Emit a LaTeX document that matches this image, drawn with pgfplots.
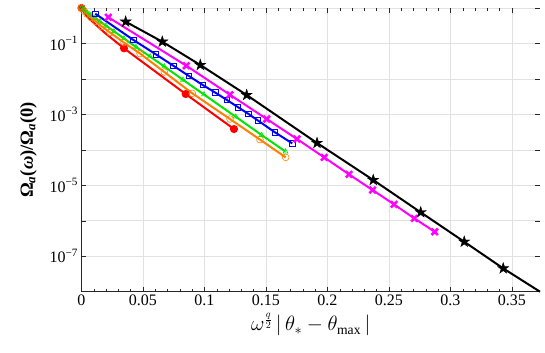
\documentclass[border=0pt]{standalone}
\usepackage{fontspec}
\setmainfont{Liberation Serif}
\usepackage{pgfplots}
\pgfplotsset{compat=1.18}
\usetikzlibrary{calc}
\definecolor{mred}{RGB}{255,0,0}
\definecolor{morange}{RGB}{255,128,0}
\definecolor{mgreen}{RGB}{0,230,0}
\definecolor{mblue}{RGB}{0,0,255}
\definecolor{mmag}{RGB}{255,0,255}
\definecolor{gridgray}{RGB}{225,225,225}
\definecolor{axgray}{RGB}{38,38,38}

% filled five-point star, like MATLAB's pentagram
\pgfdeclareplotmark{pentagram}{%
 \pgfpathmoveto{\pgfpointpolar{90}{\pgfplotmarksize}}%
 \pgfpathlineto{\pgfpointpolar{126}{0.382*\pgfplotmarksize}}%
 \pgfpathlineto{\pgfpointpolar{162}{\pgfplotmarksize}}%
 \pgfpathlineto{\pgfpointpolar{198}{0.382*\pgfplotmarksize}}%
 \pgfpathlineto{\pgfpointpolar{234}{\pgfplotmarksize}}%
 \pgfpathlineto{\pgfpointpolar{270}{0.382*\pgfplotmarksize}}%
 \pgfpathlineto{\pgfpointpolar{306}{\pgfplotmarksize}}%
 \pgfpathlineto{\pgfpointpolar{342}{0.382*\pgfplotmarksize}}%
 \pgfpathlineto{\pgfpointpolar{18}{\pgfplotmarksize}}%
 \pgfpathlineto{\pgfpointpolar{54}{0.382*\pgfplotmarksize}}%
 \pgfpathclose\pgfusepathqfillstroke}

\begin{document}
\begin{tikzpicture}
\begin{axis}[
 scale only axis,width=458.5pt,height=283.7pt,
 ymode=log,xmin=0,xmax=0.3728,ymin=1e-8,ymax=1,
 /pgf/number format/assume math mode=true,
 xtick={0,0.05,0.1,0.15,0.2,0.25,0.3,0.35},
 xticklabels={0,0.05,0.1,0.15,0.2,0.25,0.3,0.35},
 minor x tick num=4,
 ytick={1e-8,1e-7,1e-6,1e-5,1e-4,1e-3,1e-2,1e-1,1},
 yticklabels={,10\textsuperscript{−7},,10\textsuperscript{−5},,10\textsuperscript{−3},,10\textsuperscript{−1},},
 yminorticks=false,
 xmajorgrids,ymajorgrids,
 grid style={gridgray,line width=0.6pt},
 axis line style={draw=none},
 tick style={axgray,line width=0.5pt},
 major tick length=5pt,minor tick length=3pt,
 tick align=inside,
 tick label style={font=\fontsize{16}{19}\selectfont},
 xlabel={$\omega^{\frac{q}{2}}\,|\,\theta_*-\theta_{\max}\,|$},
 xlabel style={font=\fontsize{19.5}{22}\selectfont},
 ylabel={\bfseries Ω\textsubscript{\itshape a}(\textit{ω})/Ω\textsubscript{\itshape a}(0)},
 ylabel style={font=\fontsize{18.5}{21}\selectfont,at={(axis description cs:-0.09,0.5)},anchor=south},
 clip=false,
]
\draw[axgray,line width=0.7pt] (rel axis cs:0,1) -- (rel axis cs:0,0) -- (rel axis cs:1,0);

% red, filled circles
\addplot[mred,line width=2pt,mark=*,mark size=3pt,mark indices={1,6,7,8}]
 coordinates {(0,1) (0.00203,0.746) (0.00528,0.540) (0.01098,0.354) (0.01911,0.197)
 (0.03455,0.0730) (0.08472,3.75e-3) (0.12398,3.86e-4)};

% orange, open circles
\addplot[morange,line width=2pt,mark=o,mark size=3.4pt,mark options={line width=0.6pt}]
 coordinates {(0,1) (0.00203,0.823) (0.00447,0.677) (0.00772,0.540) (0.01179,0.416)
 (0.01667,0.301) (0.02317,0.204) (0.03455,0.106) (0.04756,0.0520) (0.06732,0.0157)
 (0.09008,3.93e-3) (0.12073,7.40e-4) (0.14512,1.95e-4) (0.16602,6.14e-5)};

% green, open triangles
\addplot[mgreen,line width=2pt,mark=triangle,mark size=2.8pt,mark options={line width=0.6pt}]
 coordinates {(0,1) (0.00203,0.878) (0.00447,0.746) (0.00772,0.635) (0.01098,0.522)
 (0.01504,0.416) (0.01992,0.315) (0.02642,0.220) (0.03455,0.138) (0.04431,0.0794)
 (0.05569,0.0429) (0.06732,0.0224) (0.08252,9.44e-3) (0.09959,3.63e-3)
 (0.12537,8.59e-4) (0.14650,2.61e-4) (0.16585,8.95e-5)};

% blue, open squares
\addplot[mblue,line width=2pt,mark=square,mark size=2.8pt,mark options={line width=0.7pt}]
 coordinates {(0.0112,0.690) (0.0423,0.125) (0.0603,0.0497) (0.0748,0.0234)
 (0.0872,0.0122) (0.0986,6.73e-3) (0.1088,4.11e-3) (0.1183,2.54e-3) (0.1271,1.61e-3)
 (0.1356,1.04e-3) (0.1435,6.70e-4) (0.1573,3.12e-4) (0.1714,1.52e-4)};

% magenta, crosses
\addplot[mmag,line width=2pt,mark=x,mark size=4.5pt,mark options={line width=2.5pt}]
 coordinates {(0.0218,0.547) (0.0852,0.0236) (0.1207,3.58e-3) (0.1506,7.40e-4)
 (0.1752,2.02e-4) (0.1973,6.14e-5) (0.2175,2.04e-5) (0.2367,7.35e-6)
 (0.2541,2.90e-6) (0.2706,1.17e-6) (0.2872,4.90e-7)};

% black, stars
\addplot[black,line width=2pt,mark=pentagram,mark size=5.8pt,mark options={fill=black,line width=0.4pt},mark indices={1,...,9}]
 coordinates {(0.0359,0.411) (0.0657,0.112) (0.0966,0.0247) (0.1343,3.52e-3)
 (0.1915,1.56e-4) (0.2372,1.41e-5) (0.2758,1.73e-6) (0.3112,2.56e-7)
 (0.3429,4.54e-8) (0.3728,1e-8)};
\end{axis}
\path ($(current axis.south west)+(-81.5pt,-61.3pt)$) rectangle ($(current axis.north east)+(5pt,8pt)$);
\end{tikzpicture}
\end{document}
